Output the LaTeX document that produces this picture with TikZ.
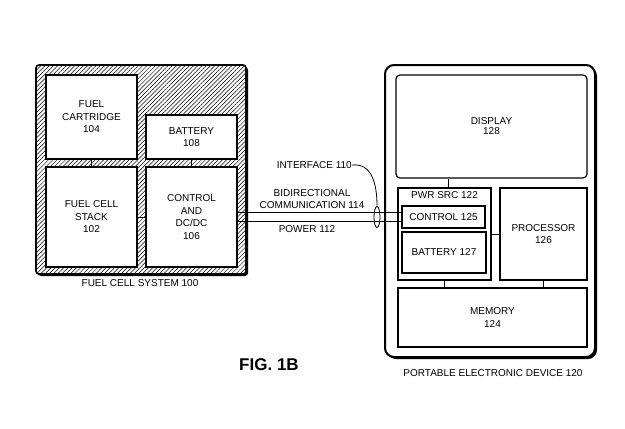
\documentclass[tikz,border=0pt]{standalone}
\usepackage{fontspec}
\setmainfont{Liberation Sans}
\usetikzlibrary{patterns.meta,calc,shapes.geometric}
\begin{document}
\begin{tikzpicture}[x=1pt,y=-1pt,
  lbl/.style={font=\fontsize{10}{12.5}\selectfont, align=center, inner sep=0pt},
  blk/.style={draw, line width=1.2pt, fill=white, inner sep=0pt, align=center,
              font=\fontsize{10}{12.5}\selectfont},
  wire/.style={line width=1pt}]
\useasboundingbox (0,0) rectangle (625,429);
% ---------------- Fuel cell system ----------------
\fill[black, rounded corners=3] (38,67) rectangle (248,276);
\fill[white, rounded corners=3] (36,65) rectangle (246,274);
\fill[pattern={Lines[angle=45,distance=3pt,line width=0.5pt]}, rounded corners=3] (36,65) rectangle (246,274);
\draw[line width=1.6pt, rounded corners=3] (36,65) rectangle (246,274);
\node[blk, minimum width=91, minimum height=84] (cart) at (91.5,117) {FUEL\\CARTRIDGE\\104};
\node[blk, minimum width=91, minimum height=44] (bat1) at (191.5,137) {BATTERY\\108};
\node[blk, minimum width=91, minimum height=100] (stack) at (91.5,217) {FUEL CELL\\STACK\\102};
\node[blk, minimum width=91, minimum height=100] (ctrl) at (191.5,217) {CONTROL\\AND\\DC/DC\\106};
\draw[wire] (cart.south) -- (stack.north);
\draw[wire] (bat1.south) -- (ctrl.north);
\draw[wire] (stack.east) -- (ctrl.west);
\node[lbl] (fcs) at (140,283) {FUEL CELL SYSTEM 100};
% ---------------- Portable device ----------------
\fill[black, rounded corners=9] (387,67) rectangle (597,359);
\fill[white, rounded corners=9] (385,65) rectangle (595,357);
\draw[line width=2pt, rounded corners=9] (385,65) rectangle (595,357);
\node[blk, rounded corners=4, minimum width=191, minimum height=103] (disp) at (491.5,126.5) {DISPLAY\\[-2.5pt]128};
\node[blk, minimum width=93, minimum height=92] (pwr) at (444.5,234) {};
\node[lbl, anchor=north] (pwrl) at (444.5,191) {PWR SRC 122};
\node[blk, minimum width=83, minimum height=22] (c125) at (443.5,217) {CONTROL 125};
\node[blk, minimum width=84, minimum height=41] (b127) at (444,252.5) {BATTERY 127};
\node[blk, minimum width=87, minimum height=92] (proc) at (543.5,234) {PROCESSOR\\126};
\node[blk, minimum width=189, minimum height=59] (mem) at (492.5,317.5) {MEMORY\\124};
\draw[wire] (disp.south -| 448,0) -- (pwr.north -| 448,0);
\draw[wire] (pwr.east) -- (proc.west);
\draw[wire] (pwr.south) -- (pwr.south |- mem.north);
\draw[wire] (proc.south) -- (proc.south |- mem.north);
\node[lbl] (ped) at (493,373) {PORTABLE ELECTRONIC DEVICE 120};
% ---------------- Link ----------------
\draw[wire] ($(ctrl.east)+(0,-4.5)$) -- ($(c125.west)+(0,-4.5)$);
\draw[wire] ($(ctrl.east)+(0,4.5)$) -- ($(c125.west)+(0,4.5)$);
\node[lbl] (bidir) at (312,199) {BIDIRECTIONAL\\COMMUNICATION 114};
\node[lbl] (pow) at (307,229) {POWER 112};
\node[draw, ellipse, line width=0.8pt, minimum width=6, minimum height=21, inner sep=0pt] (ell) at (377,217) {};
\node[lbl, anchor=east] (intf) at (352,165) {INTERFACE 110};
\draw[line width=0.8pt] (intf.east) .. controls (371,163) and (377,182) .. (ell.north);
% ---------------- Caption ----------------
\node[font=\fontsize{17}{20}\selectfont\bfseries, inner sep=0pt] (fig) at (269,365) {FIG. 1B};
\end{tikzpicture}
\end{document}
